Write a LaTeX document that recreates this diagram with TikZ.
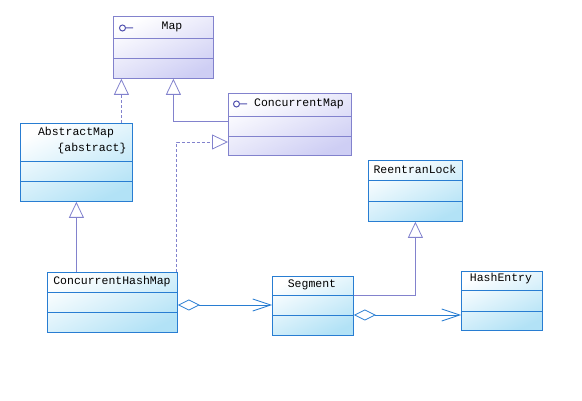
\documentclass[tikz,border=0pt]{standalone}
\usepackage{fontspec}
\setmonofont{Liberation Mono}
\usetikzlibrary{arrows.meta}
\definecolor{ccol}{RGB}{40,125,210}
\definecolor{icol}{RGB}{130,130,205}
\definecolor{mcol}{RGB}{80,80,175}
\definecolor{cfill}{RGB}{178,226,246}
\definecolor{ifill}{RGB}{206,206,244}
\tikzset{every picture/.style={x=1pt,y=-1pt}}
\tikzset{cls/.style={draw=ccol,line width=.8pt,anchor=north west,inner sep=0pt,top color=white,bottom color=cfill,shading angle=25}}
\tikzset{iface/.style={draw=icol,line width=.8pt,anchor=north west,inner sep=0pt,top color=white,bottom color=ifill,shading angle=25}}
\tikzset{txt/.style={font=\ttfamily\fontsize{11.5}{13}\selectfont,inner sep=0pt}}
\tikzset{inherit/.style={icol,line width=.8pt,-{Triangle[open,length=16pt,width=15pt]}}}
\tikzset{realize/.style={inherit,dash pattern=on 3pt off 2pt}}
\tikzset{aggr/.style={ccol,line width=.8pt,{Diamond[open,length=22pt,width=11pt]}-{Straight Barb[length=18pt,width=12pt]}}}

\begin{document}
\begin{tikzpicture}
\useasboundingbox (0,0) rectangle (582,401);

\node [iface,minimum width=100pt,minimum height=62pt] (map) at (113,16) {};
\node [iface,minimum width=123pt,minimum height=62pt] (cmap) at (228,93) {};
\node [cls,minimum width=112pt,minimum height=78pt] (absmap) at (20,123) {};
\node [cls,minimum width=130pt,minimum height=60pt] (chm) at (47,272) {};
\node [cls,minimum width=94pt,minimum height=61pt] (lock) at (368,160) {};
\node [cls,minimum width=81pt,minimum height=59pt] (seg) at (272,276) {};
\node [cls,minimum width=81pt,minimum height=59pt] (hash) at (461,271) {};

\draw [icol,line width=.8pt] ([yshift=-22pt]map.north west) -- ([yshift=-22pt]map.north east);
\draw [icol,line width=.8pt] ([yshift=-42pt]map.north west) -- ([yshift=-42pt]map.north east);
\draw [icol,line width=.8pt] ([yshift=-23pt]cmap.north west) -- ([yshift=-23pt]cmap.north east);
\draw [icol,line width=.8pt] ([yshift=-43pt]cmap.north west) -- ([yshift=-43pt]cmap.north east);
\draw [ccol,line width=.8pt] ([yshift=-38pt]absmap.north west) -- ([yshift=-38pt]absmap.north east);
\draw [ccol,line width=.8pt] ([yshift=-58pt]absmap.north west) -- ([yshift=-58pt]absmap.north east);
\draw [ccol,line width=.8pt] ([yshift=-20pt]chm.north west) -- ([yshift=-20pt]chm.north east);
\draw [ccol,line width=.8pt] ([yshift=-40pt]chm.north west) -- ([yshift=-40pt]chm.north east);
\draw [ccol,line width=.8pt] ([yshift=-20pt]lock.north west) -- ([yshift=-20pt]lock.north east);
\draw [ccol,line width=.8pt] ([yshift=-41pt]lock.north west) -- ([yshift=-41pt]lock.north east);
\draw [ccol,line width=.8pt] ([yshift=-19pt]seg.north west) -- ([yshift=-19pt]seg.north east);
\draw [ccol,line width=.8pt] ([yshift=-39pt]seg.north west) -- ([yshift=-39pt]seg.north east);
\draw [ccol,line width=.8pt] ([yshift=-19pt]hash.north west) -- ([yshift=-19pt]hash.north east);
\draw [ccol,line width=.8pt] ([yshift=-40pt]hash.north west) -- ([yshift=-40pt]hash.north east);

% interface marks
\draw [mcol,line width=1pt] (122.5,28) circle (3pt) (125.5,28) -- (133,28);
\draw [mcol,line width=1pt] (236.5,104) circle (3pt) (239.5,104) -- (247,104);

\node [txt] (mapname) at (172,27) {Map};
\node [txt] (cmapname) at (299,104) {ConcurrentMap};
\node [txt] (absname) at (76,133) {AbstractMap};
\node [txt] (abstag) at (92,149) {\{abstract\}};
\node [txt] (chmname) at (112,282) {ConcurrentHashMap};
\node [txt] (lockname) at (415,169) {ReentranLock};
\node [txt] (segname) at (312,285) {Segment};
\node [txt] (hashname) at (501,279) {HashEntry};

\draw [realize] ([xshift=45pt]absmap.north) -- ([xshift=45pt]absmap.north |- map.south);
\draw [inherit] ([yshift=-28pt]cmap.north west) -| ([xshift=10pt]map.south);
\draw [realize] ([xshift=-1pt]chm.north east) |- ([yshift=-49pt]cmap.north west);
\draw [inherit] (chm.north -| absmap.south) -- (absmap.south);
\draw [inherit] ([yshift=-19pt]seg.north east) -| (lock.south);

\draw [aggr] ([yshift=-33pt]chm.north east) -- ([yshift=-33pt]chm.north east -| seg.west);
\draw [aggr] ([yshift=-39pt]seg.north east) -- ([yshift=-39pt]seg.north east -| hash.west);
\end{tikzpicture}
\end{document}
